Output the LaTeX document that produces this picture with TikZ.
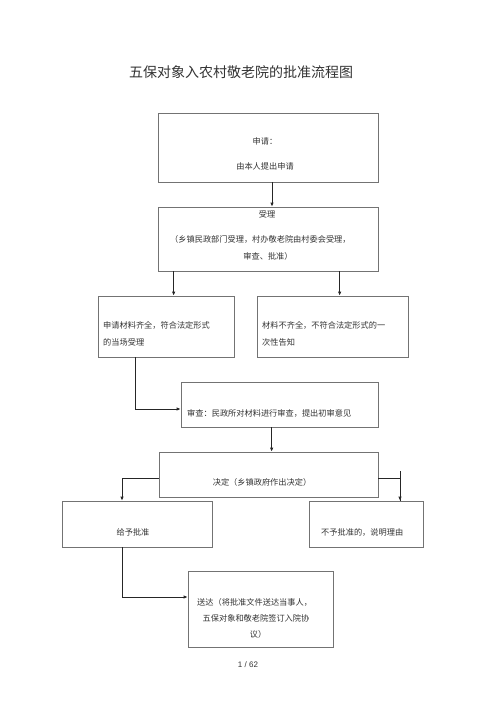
\documentclass[tikz,border=0pt]{standalone}
\usepackage{fontspec}
\newfontfamily\cjk{Noto Sans CJK SC}
\newfontfamily\pgnum{Liberation Sans}
\usetikzlibrary{arrows.meta}
\begin{document}
\begin{tikzpicture}[x=1pt,y=-1pt,
  box/.style={draw=black!55, line width=0.7pt, inner sep=0pt},
  txt/.style={font=\cjk\fontsize{8.2}{10}\selectfont, text=black!80, inner sep=0pt},
  txtw/.style={txt, anchor=west},
  arr/.style={draw=black!85, line width=0.8pt, -{Latex[length=4pt,width=3.5pt]}},
  ln/.style={draw=black!85, line width=0.8pt}]
\useasboundingbox (0,0) rectangle (500,708);
\fill[white] (0,0) rectangle (500,708);

\node[font=\cjk\fontsize{14}{16}\selectfont, text=black!80] (title) at (241,72) {五保对象入农村敬老院的批准流程图};

\node[box, minimum width=220pt, minimum height=69pt] (b1) at (268,147.5) {};
\node[box, minimum width=220pt, minimum height=64pt] (b2) at (268,239) {};
\node[box, minimum width=136pt, minimum height=61pt] (b3) at (166,326.5) {};
\node[box, minimum width=151pt, minimum height=61pt] (b4) at (332.5,326.5) {};
\node[box, minimum width=197pt, minimum height=45pt] (b5) at (279.5,404.5) {};
\node[box, minimum width=219pt, minimum height=45pt] (b6) at (268.5,474.5) {};
\node[box, minimum width=150pt, minimum height=46pt] (b7) at (137,524) {};
\node[box, minimum width=114pt, minimum height=46pt] (b8) at (366,524) {};
\node[box, minimum width=145pt, minimum height=76pt] (b9) at (260.5,609) {};

\node[txt] (t1a) at (265,141) {申请：};
\node[txt] (t1b) at (265,166) {由本人提出申请};
\node[txt] (t2a) at (267,214) {受理};
\node[txtw] (t2b) at (170,239) {（乡镇民政部门受理，村办敬老院由村委会受理，};
\node[txt] (t2c) at (268,256) {审查、批准）};
\node[txtw] (t3a) at (103,325) {申请材料齐全，符合法定形式};
\node[txtw] (t3b) at (103,342) {的当场受理};
\node[txtw] (t4a) at (262,325) {材料不齐全，不符合法定形式的一};
\node[txtw] (t4b) at (262,342) {次性告知};
\node[txtw] (t5) at (187,413) {审查：民政所对材料进行审查，提出初审意见};
\node[txt] (t6) at (262,482) {决定（乡镇政府作出决定）};
\node[txt] (t7) at (133,532) {给予批准};
\node[txtw] (t8) at (321,532) {不予批准的，说明理由};
\node[txtw] (t9a) at (197,602) {送达（将批准文件送达当事人，};
\node[txt] (t9b) at (256,618) {五保对象和敬老院签订入院协};
\node[txt] (t9c) at (258,634) {议）};
\node[font=\pgnum\fontsize{8}{10}\selectfont, text=black!80] (pg) at (248,665) {1 / 62};

\coordinate (p1) at ([xshift=4pt]b1.south);
\draw[arr] (p1) -- (p1 |- b2.north);
\coordinate (p2) at ([xshift=16pt]b2.south west);
\draw[arr] (p2) -- (p2 |- b3.north);
\coordinate (p3) at ([xshift=182pt]b2.south west);
\draw[arr] (p3) -- (p3 |- b4.north);
\coordinate (p4) at ([xshift=38pt]b3.south west);
\draw[arr] (p4) |- ([yshift=-4.5pt]b5.west);
\coordinate (p5) at ([xshift=91pt]b5.south west);
\draw[arr] (p5) -- (p5 |- b6.north);
\draw[arr] ([yshift=-3.5pt]b6.west) -| ([xshift=-15pt]b7.north);
\coordinate (t8top) at ([xshift=34pt]b8.north);
\draw[arr] ([yshift=-3.5pt]b6.east) -| (t8top);
\draw[ln] (t8top) -- ([yshift=30pt]t8top);
\draw[arr] ([xshift=-15pt]b7.south) |- ([yshift=12pt]b9.west);
\end{tikzpicture}
\end{document}
